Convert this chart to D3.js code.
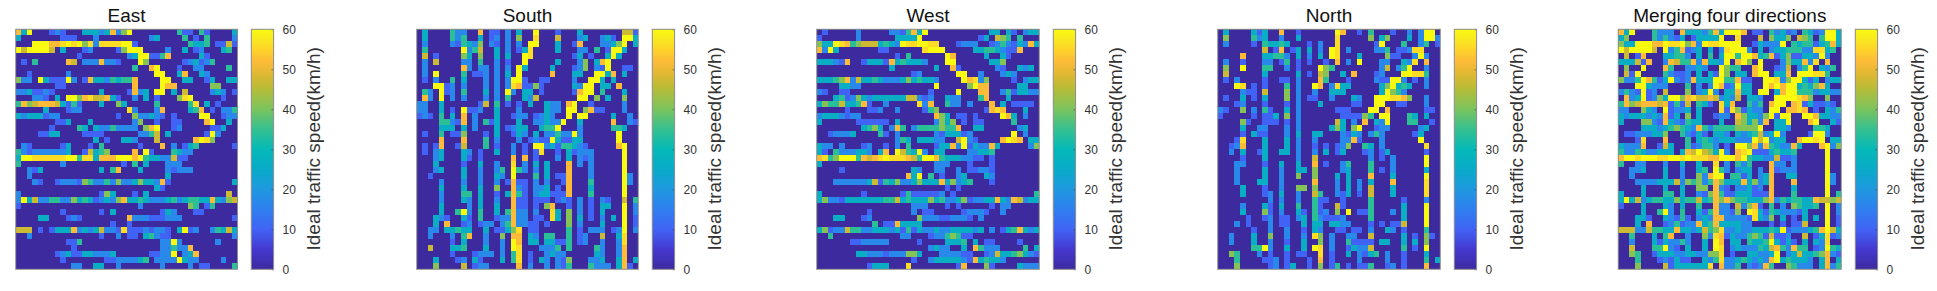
<!DOCTYPE html>
<html><head><meta charset="utf-8">
<script src="https://cdn.jsdelivr.net/npm/d3@7/dist/d3.min.js"></script>
<style>html,body{margin:0;padding:0;background:#fff;overflow:hidden}svg{display:block}text{font-family:"Liberation Sans",Arial,sans-serif}</style>
</head><body><svg id="c" width="1937" height="291"></svg>
<script>
// Speed level per cell (one digit per cell); mapped to km/h by levelSpeed.
const levelSpeed = [0,10,17,26,34,41,47,52,56,60];
const titles = ["East","South","West","North","Merging four directions"];
const colorTicks = [0,10,20,30,40,50,60];
const colorLabel = "Ideal traffic speed(km/h)";
const parulaDomain = [0,5,10,15,20,25,30,35,40,45,48,52,55,58,60];
const parulaStops = ["#3c2a9e","#4538d0","#4163f5","#2f7ff0","#1f98e0","#0aabc8","#05b9b8","#35c090","#7ac45e","#b5bd38","#d8b832","#fdbb38","#fed42a","#f8ec1c","#f8fa10"];

const east = [
"7390001210 0033323725 9000000004 1104100003",
"3000000011 1000200000 0000230000 4010400002",
"0009997789 8958288889 9100000000 0433401161",
"9699996030 0012000015 9990000200 3012000340",
"0000000000 0100000000 2399114700 0003100000",
"0104000007 6022272210 0095000000 1231240000",
"0000000000 0000000000 0400790001 0022000040",
"0010000002 0000000000 0000099003 7003200000",
"5220931119 2017332434 4700009900 3300130033",
"0000000110 0000000000 0700009770 0000055000",
"2231121000 0000030000 1723099030 6000023201",
"0002210309 9578667310 0203010005 8900000100",
"4756777631 4100030053 0000040000 0480301000",
"0000030001 2200000000 8200027000 0347010224",
"3233312200 0000000010 0522321010 0009900122",
"0000000113 0003000000 0250010011 0000790030",
"0000001000 0430322422 2205790012 0000011300",
"0000113300 0011110000 0022460300 0000192000",
"0000000000 0000301003 3200060000 0079850000",
"0210000013 0001040000 0010007020 1340000001",
"4212222223 0016345000 0709100043 2200000000",
"3998888889 9488377799 9794332261 1000000000",
"4000000020 0000000001 0403000222 0000000000",
"0021300000 0000030470 0030000212 2200000000",
"0020000000 0000000000 0000000300 0000000000",
"0002100122 2154224252 2353327100 0000000003",
"0000000000 0000000000 0000031000 0000000000",
"2000000000 0000015300 0103000000 0000000060",
"2936224422 5343123257 3343222342 3443373256",
"1000000000 0000000000 0020000000 0540140000",
"0000000010 0000010300 0000001320 0011000000",
"0000330001 2100000000 7222111222 0000000001",
"0000000000 0000000100 1000000000 0000000000",
"6660101333 7232362218 1112122103 9120024363",
"0020000000 0000010020 1103421100 0000000002",
"0000000001 1400000000 0000002292 0000002000",
"0000000000 1000000000 0000002242 2700000000",
"0000000123 1133222300 0000112290 2370000000",
"0000000010 0000001122 2234022229 3220000200",
"0000000000 2200330020 0000002000 0201100004"];

const south = [
"0300004220 0701102030 0900010003 0000000661",
"0300004240 0301202050 0800060002 3002310993",
"0200002143 2502102020 9900030017 0002235903",
"0400000092 4600302013 8000030002 2040199300",
"0601000053 0500303009 8000000013 0100393000",
"0206000022 0400201009 0000030002 5037900000",
"0200000072 0220202093 0000300012 5021900110",
"0209000040 1120203090 0000700033 0099370300",
"0102004030 0020202991 0011000020 0993030000",
"0009912020 0020202871 1510000032 9903307000",
"0420912040 0030209203 3010000017 9904000300",
"0720902020 0020204003 2600000009 9050300500",
"2200300000 0160401010 3003220790 0100000200",
"2200301091 1200300020 0003220990 5711000200",
"1210403070 2000300122 0123200909 9000030020",
"0000442170 2041300030 0223229003 0000070021",
"0000333030 2000301233 0034490002 0000044300",
"0100401150 0010300132 0302242292 0000009000",
"0000700070 0040200020 1211931133 0000009000",
"0101700160 0040100201 0992314432 1000007900",
"0102300032 0100300201 0180010312 2200000900",
"0002300031 0100000707 0100020302 1200000900",
"0003000010 0300200802 0303000702 0200000900",
"0002300030 0200240942 0203000700 0200000900",
"0010000030 0200320900 0403011700 0200000920",
"0000200020 0200201711 0202001700 0400000920",
"0000300030 0300500721 0223010700 0300000900",
"0000200044 0300103741 0233111700 0400000900",
"0000200032 0300200711 0111012102 0102100604",
"0000300002 0300300711 0105700102 0103300902",
"0000300492 0400304722 0200830502 0103000902",
"0003210031 0400122722 0110830503 0102030901",
"0003070012 0122024722 1101000502 0003000901",
"0022033433 0030113580 1100000401 0222012902",
"0020002047 0020050770 3204400401 2006003800",
"0000001030 0020020970 3303311401 2002002800",
"0060003340 0030020980 0022240400 0042002700",
"0000001000 1222020480 1002322000 0032002700",
"0003000120 3100030480 1032021500 0223003703",
"0005000060 1220000070 2002021400 0422203710"];

const west = [
"0100000200 0002214739 0000000000 0330310233",
"1000000200 0000333390 0000000001 3065404000",
"5339874566 6343298899 8800012220 0124213273",
"7293000000 0110000008 9990000033 4432117000",
"0000000000 0000104000 0009700000 3003100000",
"3332170013 3317343332 0009900000 0335000000",
"0000000000 0003000000 0300710000 0021003230",
"0000000000 0000000120 0000099002 0002320000",
"3334572633 4322235343 3200009782 5000010233",
"0000332200 0000000000 0900000597 7000003300",
"2100110000 0000000000 1000090007 7002413322",
"0003412532 3333336621 2003220004 7000300000",
"3544633471 0020000082 7004220200 0703011110",
"0000010001 1200200001 4500000000 1787000300",
"2333212200 0000000000 0753011010 0009730200",
"3000000111 1110300000 0253501011 0000040000",
"0000000034 5302740244 4454470033 0000002300",
"0012223000 0410200000 0213331200 0000090200",
"0000000000 0000243033 3220069210 0007987033",
"3220200012 0010204000 0133729132 2730000025",
"3104222332 0370964392 0330000223 3400000000",
"7845999476 7898887649 9743332211 0100000000",
"3000000000 0000000000 0222000100 0100000000",
"0000100000 0000000320 0220020112 2100000000",
"0000000000 0000007390 4010023000 3200000000",
"0002222223 6143522353 3373523400 0100000000",
"0000000000 0000000000 0001010000 0000000000",
"3000000010 0000014111 1120100000 0000000004",
"3522133333 3344634333 5342235122 3373276233",
"0000000000 0000000222 0001010000 0102200000",
"0000000001 0000000201 1000001222 1002000000",
"0003300012 0000000052 2211222102 0000000000",
"0000000000 4011733330 0000000000 0000000000",
"3512264422 3332314132 2322333323 0201347323",
"0040000000 0000022000 1224541100 0000000000",
"0000001122 2220000010 0003334030 1100001000",
"0000000000 0000000000 2322003074 2220000403",
"0000000332 2212225530 0022221100 1263345321",
"0000000000 0000000100 2333332173 4332000000",
"0000000001 3330008000 0000017000 5100003222"];

const north = [
"0300003130 0700100000 0970010400 0100202990",
"0500004230 0200300000 0800000503 5000302992",
"0200001043 3430001020 0800000019 0004002401",
"0000000060 1701303020 9802000022 4011288000",
"0000700033 4420302030 9800030000 5110029200",
"0200100022 0140101001 0702090002 2003280700",
"0500900044 0020100095 4000000002 6024900200",
"0600000030 0000301065 0030700012 0009988400",
"0102000010 0110200074 0001000021 1992010200",
"0009801010 0040200970 2833000003 5934300200",
"0000211060 0050200200 3330000003 9542000000",
"0100301030 0050201100 2000320099 9887500200",
"0001200010 0010200030 0000110099 0011000200",
"2100502041 0030200000 0111000990 7000000110",
"1000001011 3050200000 0011115409 9000430300",
"0000510011 1010200000 0630207032 9000440010",
"0000300220 0020200000 3530590012 2000002300",
"0000103110 0020300330 0021320242 0000013000",
"0001800030 0030200200 0022710002 0000009000",
"0012700030 0030200101 0125004302 0000000800",
"0020300130 0330200203 0130001201 3000000100",
"0000100030 0000200600 0000000201 0200000900",
"0002200010 0300300701 0024000400 0200000900",
"0002000030 0200330500 0023000401 0200000300",
"0002000030 0200500500 0303000700 0300000900",
"0002000330 0200000700 0203020300 0700000800",
"0000300010 0200550500 0203020600 0300000800",
"0000300012 0300200640 0213010600 0300000800",
"0000000002 0200200411 0010000400 0001000200",
"0000200031 0300400410 0610000400 0003000900",
"0000300051 0200310412 0509011400 0203000900",
"0000010012 0110230421 1120000400 0003000900",
"0002010002 0110030330 3322000101 0116000900",
"0000001002 0020010320 0110110200 3201000400",
"0020003005 0020020850 2002200600 0003010510",
"0020003002 0010030050 2004111103 3003030500",
"0000004492 0030030980 2001322600 0004010900",
"0054000201 0010110080 1003021340 2001000300",
"0004000011 2010001070 1000020000 2001000403",
"0005000001 2013001050 1401011400 1201000700"];

const merged = [
"7390004222 0733324739 9970110423 1204312993",
"3500004242 1301333390 0800060533 5065404993",
"5339997798 8957298899 9900132229 0434413473",
"9699996092 4712303028 9992030233 4442288340",
"0601700033 4420304039 9499734713 5113329200",
"3336170027 6447273329 0795090002 5337280700",
"0500900074 0022320095 4400790012 6024903240",
"0619000042 1120303195 0330799033 7099988400",
"5224974139 2127333994 4711009982 5993130233",
"0009932220 0040202971 2933009797 9934357300",
"2421912060 0050239203 3733099037 9944423322",
"0723912539 9578667623 2603320099 9987500500",
"4756777671 4160431083 7004240799 0781311210",
"2200532091 2230300081 8513220990 7787010324",
"3233323271 3050300122 0753325919 9009973322",
"3000552173 2143300030 0653527033 9000790031",
"0000333234 5432742444 4555590033 2000044300",
"0112223350 0421310332 0323462392 0000199200",
"0001800070 0040343233 3222969233 0079989033",
"3222700163 0041244201 0995727432 2730007925",
"4224322333 0376965392 0789111343 3400000900",
"7998999889 9898887799 9794332261 1200000900",
"4002200020 0300300802 0424000722 0200000900",
"0022300030 0200340942 0233020712 2200000900",
"0020000030 0200527990 4413023700 3300000920",
"0002222333 6254524753 3373523700 0700000920",
"0000300030 0300550721 0223120700 0300000900",
"3000300044 0300215741 1333111700 0400000904",
"3936234433 5344634757 5443335724 3443376656",
"1000300032 0300400722 0625710402 0543340902",
"0000300492 0400314722 1509831432 2213000902",
"0003310032 1410232772 2221832503 0103030901",
"0003070012 4122734733 3322000101 0116000901",
"6662264433 7332364582 2322333439 1222347963",
"0040003047 0020052871 3224541611 2006013812",
"0020003132 2420030970 3304334931 3103032800",
"0060004492 1030030980 2322243674 2744012943",
"0054001333 2233225580 1003322390 2363345721",
"0004000121 3110032482 2343232793 4333203703",
"0005000061 3333338072 2402127400 5422203724"];

const grids = [east,south,west,north,merged];

const plotLeft  = [15.7,416.7,816.7,1217.7,1618.3];
const plotRight = [237.5,638.3,1039.3,1440.3,1841.3];
const barLeft   = [251.3,652.3,1053.3,1454.3,1855.3];
const barWidth = 22.3, plotTop = 29.3, plotBottom = 269.3;

const svg = d3.select("#c");
const color = d3.scaleLinear().domain(parulaDomain).range(parulaStops).clamp(true);

const defs = svg.append("defs");
const grad = defs.append("linearGradient").attr("id","pg").attr("x1",0).attr("x2",0).attr("y1",1).attr("y2",0);
d3.range(0,61,1).forEach(v=>grad.append("stop").attr("offset",v/60).attr("stop-color",color(v)));

const idx = d3.range(40);
titles.forEach((title,i)=>{
  const rows = grids[i].map(r=>Array.from(r.replace(/\s/g,"").padEnd(40,"0").slice(0,40),c=>levelSpeed[+c]));
  const x = d3.scaleBand().domain(idx).range([plotLeft[i],plotRight[i]]);
  const y = d3.scaleBand().domain(idx).range([plotTop,plotBottom]);
  const g = svg.append("g");
  const cells = rows.flatMap((r,ri)=>r.map((v,ci)=>({ri,ci,v})));
  g.selectAll("rect.c").data(cells).join("rect").attr("class","c")
    .attr("x",d=>x(d.ci)).attr("y",d=>y(d.ri))
    .attr("width",x.bandwidth()).attr("height",y.bandwidth())
    .attr("shape-rendering","crispEdges")
    .attr("fill",d=>color(d.v));
  g.append("rect").attr("x",plotLeft[i]).attr("y",plotTop).attr("width",plotRight[i]-plotLeft[i]).attr("height",plotBottom-plotTop)
    .attr("fill","none").attr("stroke","#8c8c8c").attr("stroke-width",1);
  g.append("text").attr("x",(plotLeft[i]+plotRight[i])/2).attr("y",22).attr("text-anchor","middle")
    .attr("font-size",19).attr("fill","#111").text(title);
  // colour bar
  const cb = svg.append("g");
  cb.append("rect").attr("x",barLeft[i]).attr("y",plotTop).attr("width",barWidth).attr("height",plotBottom-plotTop).attr("fill","url(#pg)");
  const sc = d3.scaleLinear().domain([0,60]).range([plotBottom,plotTop]);
  const ax = d3.axisRight(sc).tickValues(colorTicks).tickSize(-2).tickPadding(9).tickFormat(d3.format("d"));
  const ag = cb.append("g").attr("transform",`translate(${barLeft[i]+barWidth},0)`).call(ax);
  ag.select(".domain").remove();
  ag.selectAll("line").attr("stroke","#333").attr("stroke-width",0.6);
  ag.selectAll("text").attr("font-size",12).attr("fill","#333").attr("font-family",'"Liberation Sans",Arial,sans-serif');
  cb.append("rect").attr("x",barLeft[i]).attr("y",plotTop).attr("width",barWidth).attr("height",plotBottom-plotTop)
    .attr("fill","none").attr("stroke","#8c8c8c").attr("stroke-width",1);
  const lx = barLeft[i]+barWidth+46;
  cb.append("text").attr("transform",`translate(${lx},${(plotTop+plotBottom)/2-0.5}) rotate(-90)`)
    .attr("text-anchor","middle").attr("font-size",19).attr("fill","#333").text(colorLabel);
});
</script></body></html>
